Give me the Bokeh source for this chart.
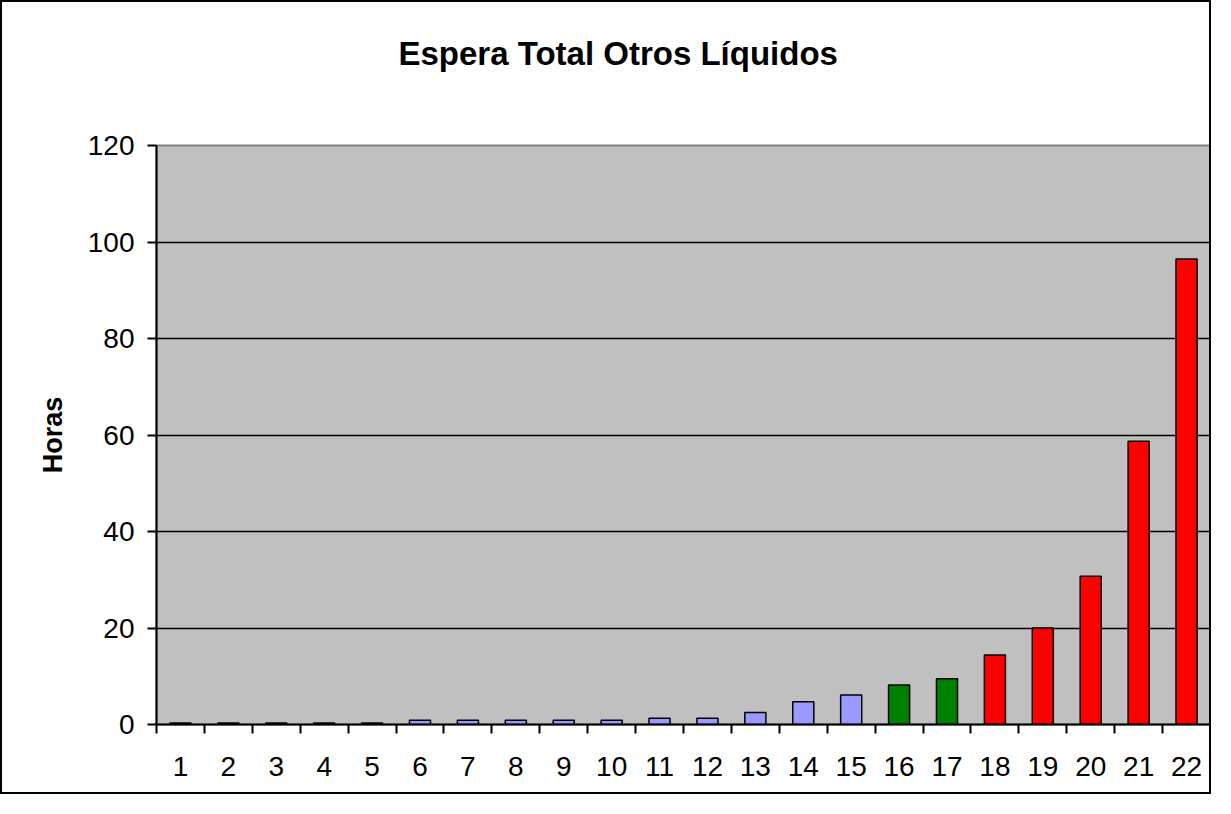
from bokeh.plotting import figure
from bokeh.models import ColumnDataSource, FixedTicker, Range1d, Title
from bokeh.embed import file_html
from bokeh.resources import INLINE

categories = [str(i) for i in range(1, 23)]
values = [0.3, 0.3, 0.3, 0.3, 0.3, 0.9, 0.9, 0.9, 0.9, 0.9, 1.3, 1.3,
          2.5, 4.7, 6.1, 8.2, 9.5, 14.4, 20.0, 30.7, 58.7, 96.5]
groups = ["low"] * 15 + ["mid"] * 2 + ["high"] * 5
group_colors = {"low": "#9999FF", "mid": "#008000", "high": "#FF0000"}
y_ticks = [0, 20, 40, 60, 80, 100, 120]
title_text = "Espera Total Otros Líquidos"
y_label = "Horas"

xs = list(range(1, len(categories) + 1))
colors = [group_colors[g] for g in groups]
src = ColumnDataSource(dict(x=xs, top=values, color=colors, cat=categories))

p = figure(width=1211, height=794, output_backend="svg", toolbar_location=None,
           title_location=None,
           x_range=Range1d(0.5, len(categories) + 0.5), y_range=Range1d(0, 120),
           min_border_left=154, min_border_top=0, min_border_right=3,
           min_border_bottom=72)
p.styles = {"border": "2px solid black"}

# spacer between plot area and title (closest to the frame), then the title
p.add_layout(Title(text=" ", text_font_size="1px", standoff=41), "above")
p.add_layout(Title(text=title_text, align="left", offset=242,
                   text_font="Liberation Sans",
                   text_font_size="33px", text_font_style="bold",
                   text_color="black", standoff=60), "above")

p.background_fill_color = "#C0C0C0"
p.border_fill_color = "white"
p.outline_line_color = "#808080"
p.outline_line_width = 2

p.vbar(x="x", top="top", bottom=0, width=0.44, source=src, fill_color="color",
       line_color="black", line_width=1.5)

# grid
p.xgrid.visible = False
p.ygrid.ticker = FixedTicker(ticks=[20, 40, 60, 80, 100])
p.ygrid.grid_line_color = "black"
p.ygrid.grid_line_width = 1.5

# x axis: labels at centers, ticks at boundaries
xa = p.xaxis[0]
xa.ticker = FixedTicker(ticks=xs, minor_ticks=[i + 0.5 for i in range(0, len(categories) + 1)])
xa.major_label_overrides = {x: c for x, c in zip(xs, categories)}
xa.major_tick_in = 0
xa.major_tick_out = 0
xa.minor_tick_in = 0
xa.minor_tick_out = 9
xa.minor_tick_line_color = "black"
xa.minor_tick_line_width = 2
xa.axis_line_color = "black"
xa.axis_line_width = 2
xa.major_label_text_font = "Liberation Sans"
xa.major_label_text_font_size = "28px"
xa.major_label_text_color = "black"
xa.major_label_standoff = 23

ya = p.yaxis[0]
ya.ticker = FixedTicker(ticks=y_ticks)
ya.minor_tick_line_color = None
ya.major_tick_in = 0
ya.major_tick_out = 9
ya.major_tick_line_color = "black"
ya.major_tick_line_width = 2
ya.axis_line_color = "black"
ya.axis_line_width = 2
ya.major_label_text_font = "Liberation Sans"
ya.major_label_text_font_size = "28px"
ya.major_label_text_color = "black"
ya.major_label_standoff = 13
ya.axis_label = y_label
ya.axis_label_text_font = "Liberation Sans"
ya.axis_label_text_font_size = "27px"
ya.axis_label_text_font_style = "bold"
ya.axis_label_text_color = "black"
ya.axis_label_standoff = 17

open("out.html", "w").write(file_html(p, INLINE))
